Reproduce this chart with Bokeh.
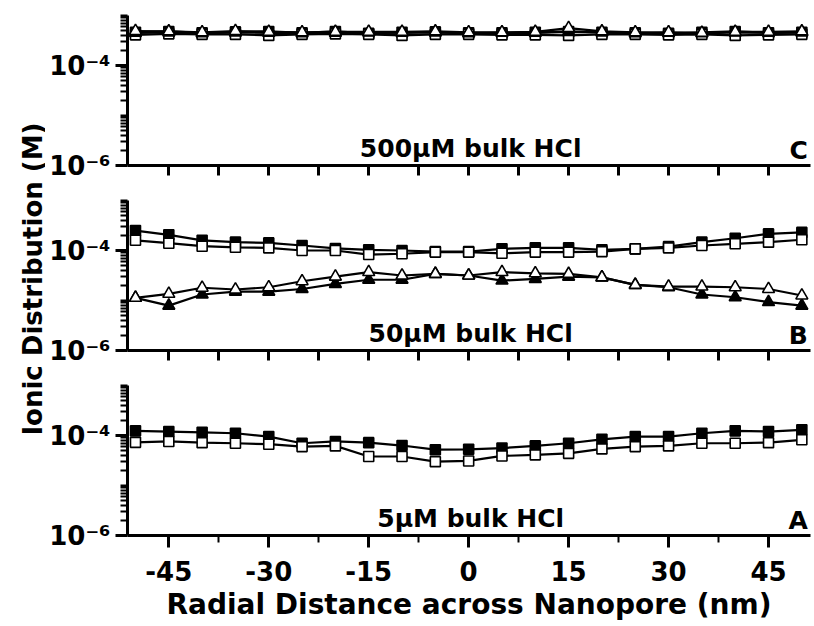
import math
from bokeh.plotting import figure
from bokeh.layouts import column, row
from bokeh.models import Range1d, FixedTicker, CustomJSTickFormatter, Label
from bokeh.embed import file_html
from bokeh.resources import INLINE

# ---------------- data ----------------
x_nm = [-50, -45, -40, -35, -30, -25, -20, -15, -10, -5, 0, 5, 10, 15, 20, 25, 30, 35, 40, 45, 50]

# Panel C : 500 uM bulk HCl
C_fsq = [4.6e-4, 4.8e-4, 4.5e-4, 4.7e-4, 4.8e-4, 4.5e-4, 4.8e-4, 4.4e-4, 4.6e-4, 4.7e-4, 4.5e-4,
         4.5e-4, 4.6e-4, 4.8e-4, 4.6e-4, 4.5e-4, 4.4e-4, 4.6e-4, 4.8e-4, 4.5e-4, 4.6e-4]
C_osq = [4.1e-4, 4.3e-4, 4.2e-4, 4.2e-4, 4.0e-4, 4.2e-4, 4.3e-4, 4.2e-4, 4.0e-4, 4.2e-4, 4.2e-4,
         4.1e-4, 4.1e-4, 4.0e-4, 4.2e-4, 4.2e-4, 4.1e-4, 4.2e-4, 4.0e-4, 4.1e-4, 4.2e-4]
C_ftri = [4.5e-4, 4.6e-4, 4.4e-4, 4.6e-4, 4.5e-4, 4.4e-4, 4.5e-4, 4.6e-4, 4.5e-4, 4.6e-4, 4.4e-4,
          4.5e-4, 4.5e-4, 4.7e-4, 4.6e-4, 4.4e-4, 4.5e-4, 4.4e-4, 4.6e-4, 4.5e-4, 4.6e-4]
C_otri = [4.9e-4, 4.8e-4, 4.6e-4, 4.9e-4, 4.7e-4, 4.6e-4, 4.7e-4, 4.7e-4, 4.7e-4, 4.8e-4, 4.6e-4,
          4.6e-4, 4.7e-4, 5.6e-4, 4.8e-4, 4.6e-4, 4.6e-4, 4.5e-4, 4.7e-4, 4.7e-4, 4.8e-4]

# Panel B : 50 uM bulk HCl
B_fsq = [2.5e-4, 2.06e-4, 1.6e-4, 1.47e-4, 1.42e-4, 1.26e-4, 1.1e-4, 1.03e-4, 1.0e-4, 0.95e-4, 0.95e-4,
         1.08e-4, 1.13e-4, 1.13e-4, 1.03e-4, 1.08e-4, 1.2e-4, 1.47e-4, 1.76e-4, 2.15e-4, 2.3e-4]
B_osq = [1.6e-4, 1.4e-4, 1.22e-4, 1.16e-4, 1.13e-4, 1.0e-4, 1.0e-4, 0.83e-4, 0.86e-4, 0.93e-4, 0.93e-4,
         0.88e-4, 0.93e-4, 0.93e-4, 0.95e-4, 1.08e-4, 1.13e-4, 1.26e-4, 1.36e-4, 1.47e-4, 1.64e-4]
B_ftri = [1.13e-5, 7.9e-6, 1.32e-5, 1.5e-5, 1.5e-5, 1.7e-5, 2.15e-5, 2.6e-5, 2.6e-5, 3.4e-5, 3.16e-5,
          2.5e-5, 2.7e-5, 3.0e-5, 2.9e-5, 2.05e-5, 1.84e-5, 1.32e-5, 1.16e-5, 9.3e-6, 7.9e-6]
B_otri = [1.13e-5, 1.36e-5, 1.8e-5, 1.66e-5, 1.84e-5, 2.43e-5, 3.0e-5, 3.7e-5, 3.16e-5, 3.4e-5, 3.16e-5,
          3.7e-5, 3.5e-5, 3.4e-5, 2.9e-5, 2.05e-5, 1.9e-5, 1.9e-5, 1.84e-5, 1.7e-5, 1.26e-5]

# Panel A : 5 uM bulk HCl
A_fsq = [1.24e-4, 1.2e-4, 1.16e-4, 1.11e-4, 0.95e-4, 0.7e-4, 0.76e-4, 0.72e-4, 0.63e-4, 0.52e-4, 0.53e-4,
         0.56e-4, 0.62e-4, 0.7e-4, 0.84e-4, 0.95e-4, 0.95e-4, 1.11e-4, 1.24e-4, 1.2e-4, 1.3e-4]
A_osq = [0.73e-4, 0.76e-4, 0.72e-4, 0.7e-4, 0.67e-4, 0.6e-4, 0.62e-4, 0.38e-4, 0.38e-4, 0.3e-4, 0.31e-4,
         0.39e-4, 0.41e-4, 0.44e-4, 0.54e-4, 0.6e-4, 0.62e-4, 0.7e-4, 0.7e-4, 0.72e-4, 0.82e-4]

x_ticks = [-45, -30, -15, 0, 15, 30, 45]
x_minor = [-37.5, -22.5, -7.5, 7.5, 22.5, 37.5]
y_labeled = [1e-6, 1e-4]
y_minor = [1e-5, 1e-3] + [m * d for d in (1e-6, 1e-5, 1e-4) for m in (2, 3, 4, 5, 6, 7, 8, 9)]

panel_texts = ["500\u03bcM bulk HCl", "50\u03bcM bulk HCl", "5\u03bcM bulk HCl"]
panel_letters = ["C", "B", "A"]
y_title = "Ionic Distribution (M)"
x_title = "Radial Distance across Nanopore (nm)"

FONT = "DejaVu Sans"
X_RANGE = (-51.2, 51.3)
Y_RANGE = (1e-6, 1e-3)
LABEL_STRIP = 45

ytick_fmt = CustomJSTickFormatter(code="""
const e = Math.round(Math.log10(tick));
const sup = {"-": "\u207b", "0": "\u2070", "1": "\u00b9", "2": "\u00b2", "3": "\u00b3",
             "4": "\u2074", "5": "\u2075", "6": "\u2076", "7": "\u2077", "8": "\u2078", "9": "\u2079"};
return "10" + String(e).split("").map(c => sup[c]).join("");
""")
xtick_fmt = CustomJSTickFormatter(code="return String(Math.round(tick));")


def make_panel(top, bottom, show_xlabels):
    p = figure(frame_width=683, frame_height=150, y_axis_type="log",
               x_range=Range1d(*X_RANGE), y_range=Range1d(*Y_RANGE),
               output_backend="svg", toolbar_location=None,
               min_border_left=127 - LABEL_STRIP, min_border_right=4,
               min_border_top=top, min_border_bottom=bottom)
    p.outline_line_color = None
    p.xgrid.visible = False
    p.ygrid.visible = False
    p.background_fill_color = "white"
    p.border_fill_color = "white"

    for ax in (p.xaxis[0], p.yaxis[0]):
        ax.axis_line_width = 3
        ax.axis_line_color = "black"
        ax.major_tick_line_width = 3
        ax.minor_tick_line_width = 2
        ax.major_tick_in = 0
        ax.minor_tick_in = 0
        ax.major_tick_out = 12
        ax.minor_tick_out = 7
        ax.major_label_text_font = FONT
        ax.major_label_text_font_style = "bold"
        ax.major_label_text_font_size = "26px"
        ax.major_label_text_color = "black"

    p.yaxis[0].ticker = FixedTicker(ticks=y_labeled, minor_ticks=y_minor)
    p.yaxis[0].formatter = ytick_fmt
    p.yaxis[0].major_label_standoff = 5
    if not show_xlabels:
        # tick marks only, no tick labels on the upper panels
        p.xaxis[0].ticker = FixedTicker(ticks=[], minor_ticks=x_ticks + x_minor)
        p.xaxis[0].minor_tick_out = 10
        p.xaxis[0].minor_tick_line_width = 3
    else:
        p.xaxis[0].ticker = FixedTicker(ticks=x_ticks, minor_ticks=x_minor)
        p.xaxis[0].formatter = xtick_fmt
        p.xaxis[0].major_label_standoff = 13
        p.xaxis[0].axis_label = x_title
        p.xaxis[0].axis_label_text_font = FONT
        p.xaxis[0].axis_label_text_font_style = "bold"
        p.xaxis[0].axis_label_text_font_size = "28px"
        p.xaxis[0].axis_label_text_color = "black"
        p.xaxis[0].axis_label_standoff = 4
    return p


def add_series(p, y, marker, filled):
    p.line(x_nm, y, line_color="black", line_width=2.2)
    size = 10 if marker == "square" else 12
    p.scatter(x_nm, y, marker=marker, size=size, line_color="black", line_width=1.6,
              fill_color="black" if filled else "white")


def add_texts(p, i):
    p.add_layout(Label(x=0.3, y=2.2e-6, text=panel_texts[i], text_align="center",
                       text_baseline="alphabetic", text_font=FONT, text_font_style="bold",
                       text_font_size="25px", text_color="black"))
    p.add_layout(Label(x=50.9, y=2.0e-6, text=panel_letters[i], text_align="right",
                       text_baseline="alphabetic", text_font=FONT, text_font_style="bold",
                       text_font_size="25px", text_color="black"))


pC = make_panel(15, 20, False)
for ys, mk, fl in ((C_fsq, "square", True), (C_osq, "square", False),
                   (C_ftri, "triangle", True), (C_otri, "triangle", False)):
    add_series(pC, ys, mk, fl)
add_texts(pC, 0)

pB = make_panel(15, 18, False)
for ys, mk, fl in ((B_fsq, "square", True), (B_osq, "square", False),
                   (B_ftri, "triangle", True), (B_otri, "triangle", False)):
    add_series(pB, ys, mk, fl)
add_texts(pB, 1)

pA = make_panel(17, 91, True)
for ys, mk, fl in ((A_fsq, "square", True), (A_osq, "square", False)):
    add_series(pA, ys, mk, fl)
add_texts(pA, 2)

# narrow strip on the left carrying the shared y-axis title
pL = figure(width=LABEL_STRIP, height=626, x_range=Range1d(0, 1), y_range=Range1d(0, 1),
            output_backend="svg", toolbar_location=None,
            min_border_left=0, min_border_right=0, min_border_top=0, min_border_bottom=0)
pL.axis.visible = False
pL.xgrid.visible = False
pL.ygrid.visible = False
pL.outline_line_color = None
pL.add_layout(Label(x=0.72, y=0.555, text=y_title, angle=math.pi / 2,
                    text_align="center", text_baseline="middle", text_font=FONT,
                    text_font_style="bold", text_font_size="26px", text_color="black"))

layout = row(pL, column(pC, pB, pA, spacing=0), spacing=0)
open("out.html", "w").write(file_html(layout, INLINE))
